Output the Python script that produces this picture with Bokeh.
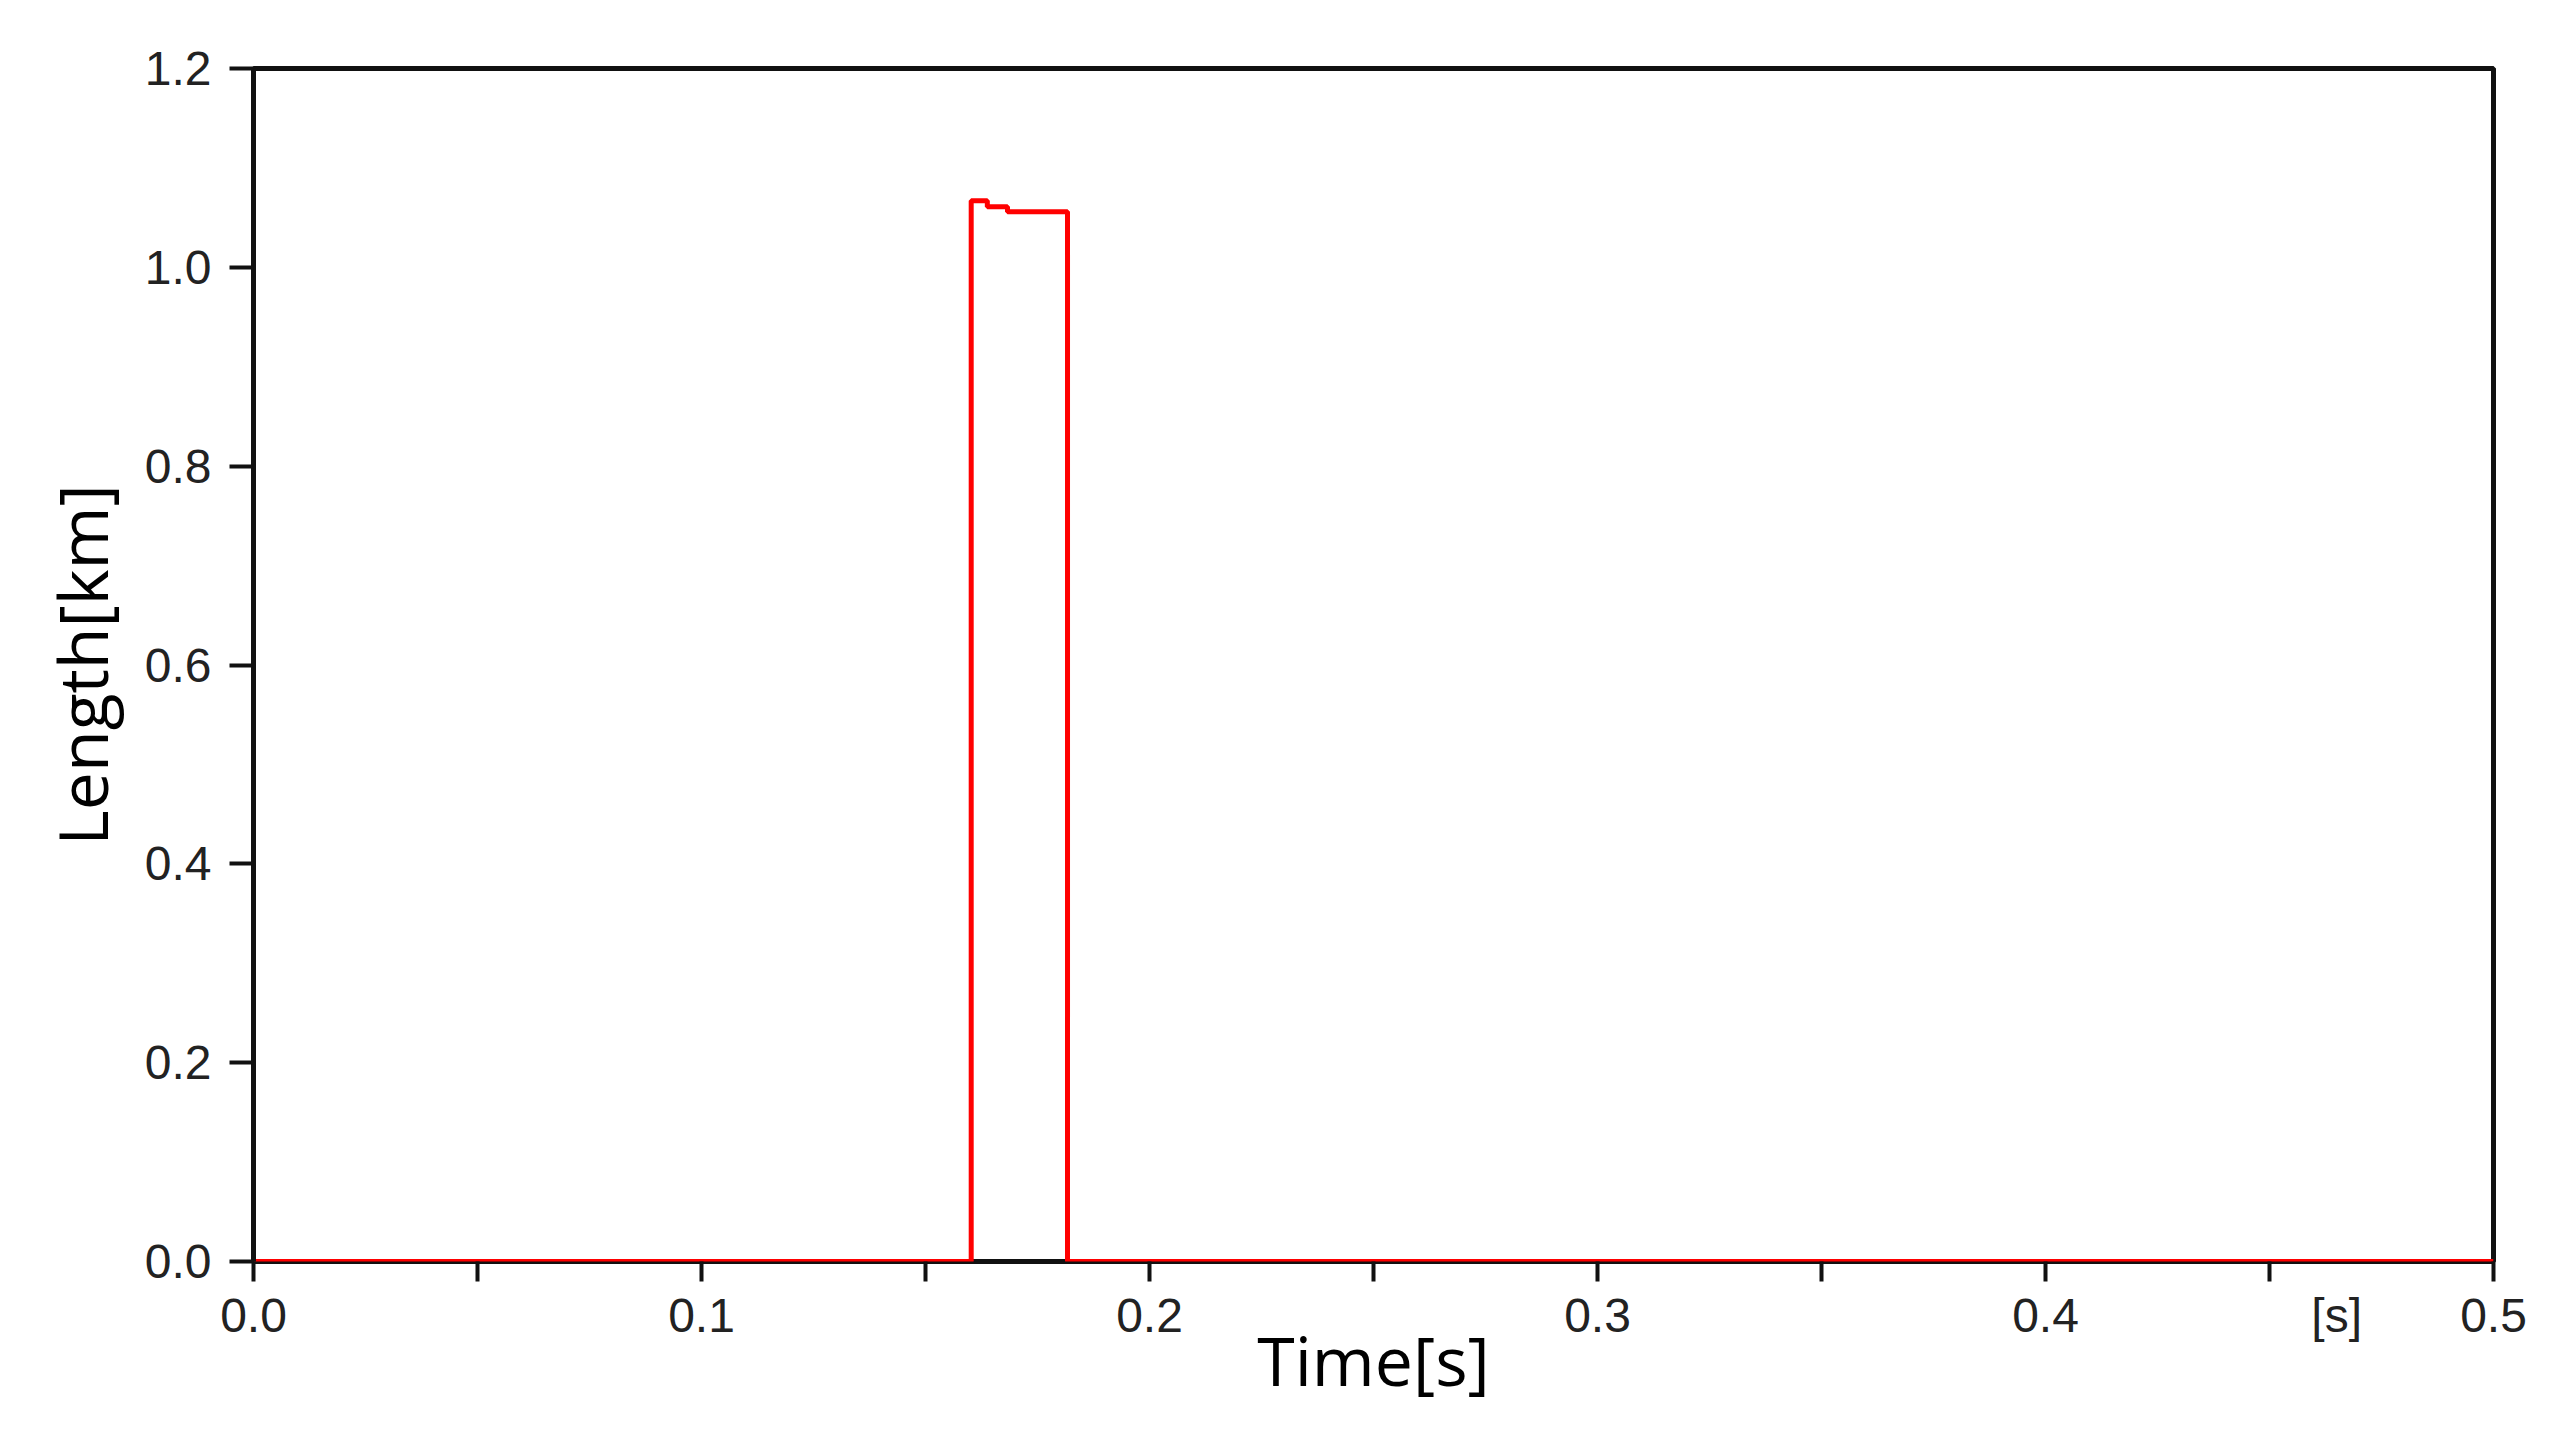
from bokeh.plotting import figure
from bokeh.models import Range1d, FixedTicker, NumeralTickFormatter
from bokeh.embed import file_html
from bokeh.resources import INLINE

# Data (step signal)
time_s = [0.0, 0.1602, 0.1638, 0.1683, 0.1817, 0.5]
length_km = [0.0, 1.067, 1.061, 1.056, 0.0, 0.0]

x_labels = {0.0: "0.0", 0.1: "0.1", 0.2: "0.2", 0.3: "0.3", 0.4: "0.4", 0.5: "0.5", 0.465: "[s]"}
x_tick_marks = [0.0, 0.05, 0.1, 0.15, 0.2, 0.25, 0.3, 0.35, 0.4, 0.45, 0.5]
y_ticks = [0.0, 0.2, 0.4, 0.6, 0.8, 1.0, 1.2]

p = figure(width=2540, height=1420, output_backend="svg", toolbar_location=None,
           x_range=Range1d(0, 0.5), y_range=Range1d(0, 1.2),
           min_border_left=253, min_border_right=47, min_border_top=68, min_border_bottom=159)
p.background_fill_color = "white"
p.border_fill_color = "white"
p.grid.visible = False
p.outline_line_color = "#111111"
p.outline_line_width = 5

p.step(time_s, length_km, mode="after", line_color="#ff0000", line_width=5)

tick_font = "Liberation Sans"
for ax in (p.xaxis[0], p.yaxis[0]):
    ax.axis_line_color = "#111111"
    ax.axis_line_width = 5
    ax.major_tick_line_color = "#111111"
    ax.major_tick_line_width = 4
    ax.major_tick_in = 0
    ax.major_label_text_font = tick_font
    ax.major_label_text_font_size = "48px"
    ax.major_label_text_color = "#222222"
    ax.axis_label_text_font = "Open Sans"
    ax.axis_label_text_font_style = "normal"
    ax.axis_label_text_font_size = "68px"
    ax.axis_label_text_color = "#000000"

xa = p.xaxis[0]
xa.axis_line_color = None  # bottom edge drawn by the frame outline, under the red trace
xa.ticker = FixedTicker(ticks=list(x_labels.keys()), minor_ticks=x_tick_marks)
xa.major_label_overrides = x_labels
xa.major_tick_line_color = None  # tick marks are drawn as the minor ticks
xa.major_tick_out = 20
xa.minor_tick_out = 20
xa.minor_tick_in = 0
xa.minor_tick_line_color = "#111111"
xa.minor_tick_line_width = 4
xa.major_label_standoff = 7
xa.axis_label = "Time[s]"
xa.axis_label_standoff = -32

ya = p.yaxis[0]
ya.ticker = FixedTicker(ticks=y_ticks)
ya.formatter = NumeralTickFormatter(format="0.0")
ya.major_tick_out = 24
ya.minor_tick_line_color = None
ya.major_label_standoff = 18
ya.axis_label = "Length[km]"
ya.axis_label_standoff = 14

open("out.html", "w").write(file_html(p, INLINE))
